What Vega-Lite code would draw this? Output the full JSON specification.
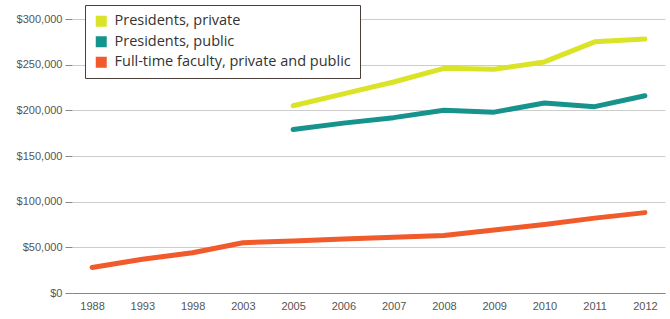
{
  "$schema": "https://vega.github.io/schema/vega-lite/v6.json",
  "width": 593,
  "height": 274,
  "autosize": {"type": "none"},
  "padding": {"left": 72, "top": 19, "right": 5, "bottom": 26},
  "background": "white",
  "config": {
    "view": {"stroke": null},
    "font": "Open Sans"
  },
  "data": {
    "values": [
      {"year": "1988", "series": "Full-time faculty, private and public", "salary": 28000},
      {"year": "1993", "series": "Full-time faculty, private and public", "salary": 37000},
      {"year": "1998", "series": "Full-time faculty, private and public", "salary": 44000},
      {"year": "2003", "series": "Full-time faculty, private and public", "salary": 55000},
      {"year": "2005", "series": "Full-time faculty, private and public", "salary": 57000},
      {"year": "2006", "series": "Full-time faculty, private and public", "salary": 59000},
      {"year": "2007", "series": "Full-time faculty, private and public", "salary": 61000},
      {"year": "2008", "series": "Full-time faculty, private and public", "salary": 63000},
      {"year": "2009", "series": "Full-time faculty, private and public", "salary": 69000},
      {"year": "2010", "series": "Full-time faculty, private and public", "salary": 75000},
      {"year": "2011", "series": "Full-time faculty, private and public", "salary": 82000},
      {"year": "2012", "series": "Full-time faculty, private and public", "salary": 88000},
      {"year": "2005", "series": "Presidents, private", "salary": 205000},
      {"year": "2006", "series": "Presidents, private", "salary": 218000},
      {"year": "2007", "series": "Presidents, private", "salary": 231000},
      {"year": "2008", "series": "Presidents, private", "salary": 246000},
      {"year": "2009", "series": "Presidents, private", "salary": 245000},
      {"year": "2010", "series": "Presidents, private", "salary": 253000},
      {"year": "2011", "series": "Presidents, private", "salary": 275000},
      {"year": "2012", "series": "Presidents, private", "salary": 278000},
      {"year": "2005", "series": "Presidents, public", "salary": 179000},
      {"year": "2006", "series": "Presidents, public", "salary": 186000},
      {"year": "2007", "series": "Presidents, public", "salary": 192000},
      {"year": "2008", "series": "Presidents, public", "salary": 200000},
      {"year": "2009", "series": "Presidents, public", "salary": 198000},
      {"year": "2010", "series": "Presidents, public", "salary": 208000},
      {"year": "2011", "series": "Presidents, public", "salary": 204000},
      {"year": "2012", "series": "Presidents, public", "salary": 216000}
    ]
  },
  "mark": {"type": "line", "strokeWidth": 5, "strokeCap": "round", "strokeJoin": "round"},
  "encoding": {
    "x": {
      "field": "year",
      "type": "ordinal",
      "scale": {"type": "point", "padding": 0.4},
      "axis": {
        "title": null,
        "labelAngle": 0,
        "labelFont": "Liberation Sans",
        "labelFontSize": 11,
        "labelColor": "#555",
        "labelDx": 9,
        "labelPadding": 7,
        "ticks": false,
        "domain": true,
        "domainColor": "#888",
        "domainWidth": 1,
        "grid": false
      }
    },
    "y": {
      "field": "salary",
      "type": "quantitative",
      "scale": {"domain": [0, 300000], "nice": false},
      "axis": {
        "title": null,
        "values": [0, 50000, 100000, 150000, 200000, 250000, 300000],
        "format": "$,.0f",
        "labelFont": "Liberation Sans",
        "labelFontSize": 11,
        "labelColor": "#555",
        "tickColor": "#888",
        "tickSize": 7,
        "labelPadding": 3,
        "domain": false,
        "grid": true,
        "gridColor": "#ccc",
        "gridWidth": 1
      }
    },
    "color": {
      "field": "series",
      "type": "nominal",
      "scale": {
        "domain": ["Presidents, private", "Presidents, public", "Full-time faculty, private and public"],
        "range": ["#dbe327", "#16938c", "#f15a2b"]
      },
      "legend": {
        "title": null,
        "orient": "none",
        "legendX": 13,
        "legendY": -14,
        "direction": "vertical",
        "symbolType": "square",
        "symbolSize": 121,
        "symbolStrokeWidth": 0,
        "labelFont": "Open Sans",
        "labelFontSize": 14.5,
        "labelColor": "#333",
        "labelOffset": 6,
        "rowPadding": 5.5,
        "padding": 9,
        "strokeColor": "#4a3f38",
        "fillColor": "white",
        "labelLimit": 400,
        "encode": {
          "symbols": {
            "update": {
              "fill": {"scale": "color", "field": "value"},
              "strokeWidth": {"value": 0}
            }
          }
        }
      }
    }
  }
}
